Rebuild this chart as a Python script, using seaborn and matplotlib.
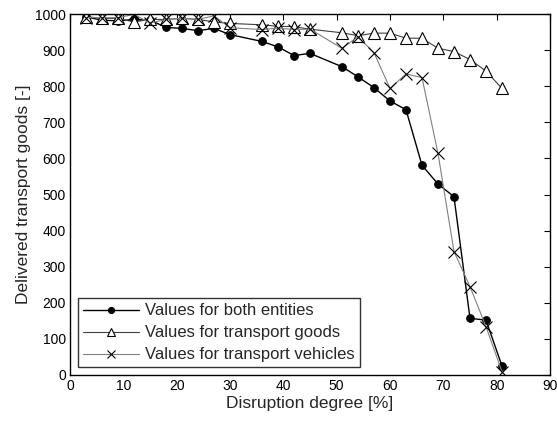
import numpy as np
import pandas as pd
import matplotlib
matplotlib.use("Agg")
import matplotlib.pyplot as plt
import seaborn as sns

x_vals = [3, 6, 9, 12, 15, 18, 21, 24, 27, 30, 36, 39, 42, 45, 51, 54, 57, 60, 63, 66, 69, 72, 75, 78, 81]
both_entities = [992, 983, 981, 985, 983, 963, 960, 954, 960, 943, 924, 909, 885, 891, 854, 826, 796, 759, 735, 581, 529, 494, 157, 152, 25]
transport_goods = [993, 988, 988, 978, 985, 985, 988, 985, 978, 974, 970, 966, 965, 958, 948, 940, 947, 947, 933, 933, 905, 896, 874, 842, 794]
transport_vehicles = [990, 990, 990, 999, 975, 985, 988, 985, 995, 962, 957, 961, 957, 958, 905, 937, 893, 794, 834, 824, 614, 342, 245, 134, 9]

labels = ["Values for both entities", "Values for transport goods", "Values for transport vehicles"]
x_ticks = list(range(0, 91, 10))
y_ticks = list(range(0, 1001, 100))

sns.set_theme(style="white")
plt.rcParams['font.family'] = ['Liberation Sans', 'DejaVu Sans']
plt.rcParams['xtick.direction'] = 'in'
plt.rcParams['ytick.direction'] = 'in'

fig = plt.figure(figsize=(5.57, 4.21), dpi=100)
ax = fig.add_axes([0.1257, 0.1093, 0.8617, 0.8574])

sns.lineplot(x=x_vals, y=both_entities, ax=ax, color="black", lw=1.0,
             marker="o", markersize=5.5, markerfacecolor="black", markeredgecolor="black",
             label=labels[0])
sns.lineplot(x=x_vals, y=transport_goods, ax=ax, color="#404040", lw=0.8,
             marker="^", markersize=8, markerfacecolor="white", markeredgecolor="black",
             markeredgewidth=0.8, label=labels[1])
sns.lineplot(x=x_vals, y=transport_vehicles, ax=ax, color="#808080", lw=0.8,
             marker="x", markersize=8, markeredgecolor="black", markeredgewidth=0.8,
             label=labels[2])

ax.set_xlim(0, 90)
ax.set_ylim(0, 1000)
ax.set_xticks(x_ticks)
ax.set_yticks(y_ticks)
ax.tick_params(axis='both', which='both', direction='in', length=4, width=0.8,
               top=True, right=True, labelsize=10, colors='black', pad=3)
for s in ax.spines.values():
    s.set_color('black')
    s.set_linewidth(1.0)
ax.set_xlabel("Disruption degree [%]", fontsize=12.5, labelpad=2)
ax.set_ylabel("Delivered transport goods [-]", fontsize=12.5, labelpad=3)

leg = ax.legend(loc="lower left", fontsize=12, frameon=True, fancybox=False,
                handlelength=3.4, borderaxespad=0.45, labelspacing=0.42,
                handletextpad=0.35, borderpad=0.3, markerscale=0.8)
leg.get_frame().set_edgecolor('black')
leg.get_frame().set_linewidth(1.0)

fig.savefig("out.png", dpi=100)
